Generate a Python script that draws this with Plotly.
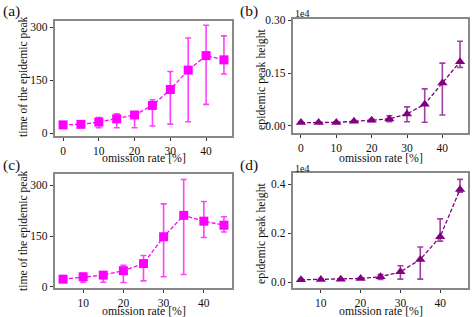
import plotly.graph_objects as go
import numpy as np

# ---- data ----
rate_ab = [0, 5, 10, 15, 20, 25, 30, 35, 40, 45]
rate_cd = [5, 10, 15, 20, 25, 30, 35, 40, 45]

# (a) time of the epidemic peak
time_a = [23, 24.5, 31, 40, 51, 78, 123, 178, 219, 207]
time_a_hi = [27, 28, 44, 54, 58, 94, 174, 269, 305, 275]
time_a_lo = [19, 20, 15, 15, 15, 20, 25, 32, 81, 167]

# (b) epidemic peak height
height_b = [94, 95, 100, 130, 160, 198, 340, 614, 1217, 1820]
height_b_hi = [110, 110, 115, 150, 190, 290, 540, 1050, 1780, 2400]
height_b_lo = [80, 80, 85, 110, 130, 120, 120, 105, 310, 1660]

# (c) time of the epidemic peak
time_c = [23, 30, 35, 48, 69, 148, 211, 194, 182]
time_c_hi = [27, 40, 44, 64, 93, 245, 317, 252, 207]
time_c_lo = [19, 14, 14, 13, 18, 30, 37, 146, 162]

# (d) epidemic peak height
height_d = [95, 105, 115, 150, 218, 420, 925, 1850, 3780]
height_d_hi = [130, 130, 140, 180, 310, 667, 1430, 2580, 4190]
height_d_lo = [70, 80, 90, 120, 110, 120, 120, 1670, 3670]

MAG = "#ff00ff"
MAG_ERR = "rgba(255,0,255,0.75)"
PUR = "#800080"
PUR_ERR = "rgba(128,0,128,0.75)"
FONT = "Liberation Serif"
TXT = "#111111"

fig = go.Figure()

def add(x, y, hi, lo, color, ecolor, symbol, xa, ya):
    y = np.array(y, float)
    up = np.array(hi, float) - y
    dn = y - np.array(lo, float)
    fig.add_trace(go.Scatter(
        x=x, y=y, mode="lines+markers",
        line=dict(color=color, dash="4px,2px", width=1.3),
        marker=dict(symbol=symbol, size=9, color=color),
        error_y=dict(type="data", symmetric=False, array=up, arrayminus=dn,
                     color=ecolor, thickness=1.6, width=3),
        xaxis=xa, yaxis=ya, showlegend=False, hoverinfo="skip"))

add(rate_ab, time_a, time_a_hi, time_a_lo, MAG, MAG_ERR, "square", "x", "y")
add(rate_ab, height_b, height_b_hi, height_b_lo, PUR, PUR_ERR, "triangle-up", "x2", "y2")
add(rate_cd, time_c, time_c_hi, time_c_lo, MAG, MAG_ERR, "square", "x3", "y3")
add(rate_cd, height_d, height_d_hi, height_d_lo, PUR, PUR_ERR, "triangle-up", "x4", "y4")

W, H = 476, 317
def dx(a, b):
    return [a / W, b / W]
def dy(top, bot):
    return [1 - bot / H, 1 - top / H]

axis_common = dict(showline=True, mirror=True, linecolor="#888888", linewidth=1.5,
                   ticks="outside", ticklen=3.5, tickwidth=1, tickcolor="#333333",
                   showgrid=False, zeroline=False, automargin=False,
                   tickfont=dict(family=FONT, size=11.5, color=TXT))

layout = dict(
    width=W, height=H, margin=dict(l=0, r=0, t=0, b=0, autoexpand=False),
    paper_bgcolor="white", plot_bgcolor="white",
    xaxis=dict(domain=dx(55, 232), range=[-2.25, 47.25], tickvals=[0, 10, 20, 30, 40],
               anchor="y", ticklabelstandoff=0, **axis_common),
    yaxis=dict(domain=dy(21, 136), range=[-8.5, 317], tickvals=[0, 150, 300],
               anchor="x", **axis_common),
    xaxis2=dict(domain=dx(293, 468), range=[-2.25, 47.25], tickvals=[0, 10, 20, 30, 40],
                anchor="y2", ticklabelstandoff=0, **axis_common),
    yaxis2=dict(domain=dy(19, 133), range=[-200, 3030], tickvals=[0, 1500, 3000],
                ticktext=["0.00", "0.15", "0.30"], anchor="x2", **axis_common),
    xaxis3=dict(domain=dx(55, 232), range=[3.0, 47.0], tickvals=[10, 20, 30, 40],
                anchor="y3", ticklabelstandoff=0, **axis_common),
    yaxis3=dict(domain=dy(174, 288), range=[-3, 333], tickvals=[0, 150, 300],
                anchor="x3", **axis_common),
    xaxis4=dict(domain=dx(293, 468), range=[3.0, 47.0], tickvals=[10, 20, 30, 40],
                anchor="y4", ticklabelstandoff=0, **axis_common),
    yaxis4=dict(domain=dy(173, 288), range=[-240, 4450], tickvals=[0, 2000, 4000],
                ticktext=["0.0", "0.2", "0.4"], anchor="x4", **axis_common),
)
fig.update_layout(**layout)

def note(text, px, py, size, angle=0, xanchor="center"):
    fig.add_annotation(text=text, x=px / W, y=1 - py / H, xref="paper", yref="paper",
                       xanchor=xanchor, yanchor="middle", showarrow=False, textangle=angle,
                       font=dict(family=FONT, size=size, color=TXT))

# panel labels
for t, px, py in [("(a)", 1, 11), ("(b)", 238, 11), ("(c)", 1, 165), ("(d)", 238, 165)]:
    note(t, px, py, 15.5, xanchor="left")
# offset texts
note("1e4", 293, 14, 10, xanchor="left")
note("1e4", 293, 168, 10, xanchor="left")
# x titles
for px, py in [(144, 158), (381, 158), (144, 310.5), (381, 310.5)]:
    note("omission rate [%]", px, py, 11.8)
# y titles
note("time of the epidemic peak", 23, 77, 11.6, angle=-90)
note("epidemic peak height", 261, 79, 11.8, angle=-90)
note("time of the epidemic peak", 23, 231, 11.6, angle=-90)
note("epidemic peak height", 261, 233, 11.8, angle=-90)

fig.write_html("out.html", config={"displayModeBar": False},
               post_script="document.body.style.margin='0';document.body.style.overflow='hidden';")
